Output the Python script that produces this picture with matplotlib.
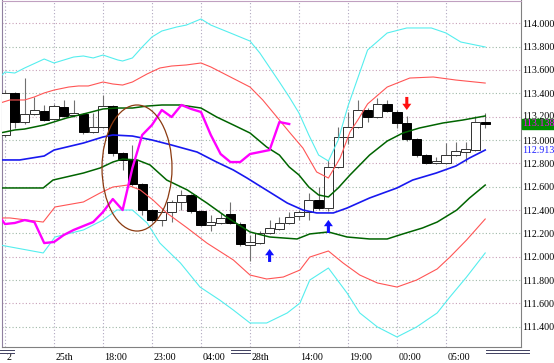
import matplotlib
matplotlib.use('Agg')
import matplotlib.pyplot as plt
from matplotlib.patches import Ellipse
from matplotlib.lines import Line2D
import matplotlib.transforms as mtransforms

# ---------------- data ----------------
opens = [113.043, 113.403, 113.154, 113.223, 113.249, 113.180, 113.283, 113.214, 113.223, 113.069,
         113.111, 113.291, 112.889, 112.829, 112.623, 112.400, 112.314, 112.383, 112.469, 112.529,
         112.392, 112.272, 112.289, 112.366, 112.280, 112.100, 112.117, 112.203, 112.237, 112.289,
         112.349, 112.383, 112.486, 112.417, 112.769, 113.026, 113.111, 113.257, 113.197, 113.308,
         113.240, 113.146, 113.009, 112.871, 112.803, 112.803, 112.871, 112.897, 112.914, 113.154]
closes = [113.403, 113.154, 113.223, 113.257, 113.171, 113.291, 113.206, 113.231, 113.069, 113.111,
          113.291, 112.889, 112.829, 112.623, 112.400, 112.314, 112.383, 112.469, 112.529, 112.392,
          112.272, 112.297, 112.332, 112.289, 112.109, 112.126, 112.203, 112.246, 112.289, 112.340,
          112.383, 112.486, 112.417, 112.769, 113.026, 113.111, 113.257, 113.197, 113.308, 113.249,
          113.146, 113.009, 112.871, 112.803, 112.820, 112.871, 112.906, 112.923, 113.154, 113.138]
highs = [113.428, 113.410, 113.531, 113.368, 113.300, 113.308, 113.343, 113.343, 113.231, 113.231,
         113.386, 113.300, 112.897, 112.957, 112.632, 112.409, 112.417, 112.486, 112.572, 112.537,
         112.400, 112.357, 112.374, 112.469, 112.297, 112.186, 112.220, 112.314, 112.340, 112.383,
         112.400, 112.546, 112.597, 112.829, 113.111, 113.240, 113.343, 113.274, 113.360, 113.343,
         113.257, 113.206, 113.017, 112.880, 112.854, 112.974, 112.983, 112.983, 113.206, 113.231]
lows = [113.026, 113.103, 113.137, 113.214, 113.163, 113.171, 113.197, 113.197, 113.051, 113.060,
        113.103, 112.863, 112.743, 112.606, 112.357, 112.297, 112.263, 112.297, 112.400, 112.374,
        112.263, 112.220, 112.280, 112.280, 112.092, 111.963, 112.109, 112.195, 112.229, 112.280,
        112.314, 112.314, 112.400, 112.392, 112.760, 112.966, 113.103, 113.154, 113.189, 113.240,
        113.103, 112.991, 112.854, 112.794, 112.794, 112.794, 112.863, 112.811, 112.906, 113.103]

cyan_up_x = [-0.5, 0, 1, 2, 4, 5, 7, 8, 9, 10, 11.5, 12, 13, 14, 15, 16, 17.5, 18.5, 20, 21, 23, 25, 26, 28,
             29, 30, 31, 32, 33, 34, 35, 36, 37, 39, 41, 43.5, 45, 46.5, 49]
cyan_up_y = [113.540, 113.583, 113.574, 113.617, 113.694, 113.660, 113.711, 113.720, 113.703, 113.728,
             113.686, 113.677, 113.703, 113.797, 113.883, 113.934, 113.968, 113.985, 114.037, 113.985,
             113.917, 113.848, 113.746, 113.497, 113.369, 113.231, 113.043, 112.871, 112.820, 113.000,
             113.291, 113.531, 113.771, 113.917, 113.960, 113.960, 113.917, 113.840, 113.797]

red_up_x = [-0.5, 0.5, 2, 3, 4, 5, 6.5, 7.5, 8.5, 10, 11, 12, 13, 14.5, 15.8, 17, 18.5, 20, 21, 23, 25,
            26.3, 28, 29, 30.4, 31.8, 33, 34.2, 35.2, 36, 37, 39, 41.3, 43.7, 46, 49]
red_up_y = [113.317, 113.343, 113.343, 113.369, 113.403, 113.428, 113.454, 113.463, 113.463, 113.497,
            113.480, 113.471, 113.497, 113.566, 113.617, 113.634, 113.643, 113.660, 113.626, 113.540,
            113.454, 113.343, 113.171, 113.069, 112.931, 112.726, 112.674, 112.846, 113.069, 113.171,
            113.309, 113.454, 113.531, 113.540, 113.514, 113.488]

green_up_x = [-0.5, 1, 2, 4, 6.3, 8.4, 10, 11.4, 13, 14.5, 16, 17.9, 20, 21.6, 23.3, 25, 26.7, 28, 29, 30,
              31, 32, 33, 34, 35.2, 37.2, 39, 40.6, 42.3, 44.7, 46.7, 49]
green_up_y = [113.060, 113.086, 113.094, 113.129, 113.189, 113.231, 113.266, 113.274, 113.274, 113.291,
              113.300, 113.300, 113.274, 113.197, 113.129, 113.060, 112.940, 112.871, 112.769, 112.700,
              112.597, 112.529, 112.512, 112.589, 112.700, 112.871, 112.991, 113.060, 113.103, 113.146,
              113.171, 113.206]

blue_x = [-0.5, 1.5, 4, 5, 8, 10, 11, 13, 15, 17, 19.6, 21.6, 23.3, 24.7, 26, 27, 28.8, 30.4, 31.8, 33.5,
          34.9, 37.2, 40, 41.6, 44, 46, 47.4, 49]
blue_y = [112.829, 112.829, 112.863, 112.914, 112.974, 113.026, 113.043, 113.034, 113.000, 112.957,
          112.897, 112.811, 112.743, 112.674, 112.606, 112.554, 112.460, 112.400, 112.375, 112.375,
          112.417, 112.503, 112.589, 112.657, 112.717, 112.777, 112.846, 112.914]

green_lo_x = [-0.5, 3.9, 4.9, 8, 9.7, 11, 12, 13.5, 14.8, 16.5, 18.6, 20.6, 22.6, 25, 27, 29.8, 31.1, 33,
              34.9, 37.2, 39, 40.6, 42.6, 44.1, 46.1, 47.4, 49]
green_lo_y = [112.589, 112.589, 112.657, 112.717, 112.760, 112.811, 112.837, 112.829, 112.786, 112.657,
              112.572, 112.460, 112.340, 112.212, 112.169, 112.152, 112.195, 112.212, 112.169, 112.152,
              112.152, 112.195, 112.246, 112.297, 112.400, 112.503, 112.614]

red_lo_x = [-0.5, 0.5, 3.9, 5.1, 8, 9.7, 11, 12.5, 13.8, 15.1, 16.5, 18.6, 20.6, 23.3, 25, 26.7, 28.4,
            30.1, 31.1, 33, 34.5, 36.2, 38, 40, 42, 44.1, 45.4, 47.1, 49]
red_lo_y = [112.332, 112.332, 112.297, 112.426, 112.469, 112.546, 112.597, 112.614, 112.572, 112.486,
            112.375, 112.246, 112.117, 111.972, 111.843, 111.809, 111.826, 111.886, 111.997, 112.049,
            111.946, 111.843, 111.775, 111.740, 111.800, 111.895, 111.997, 112.143, 112.323]

cyan_lo_x = [-0.5, 3.9, 5.1, 8, 10, 11.4, 13, 14.5, 15.8, 17.9, 19.9, 21.9, 23.3, 25, 26.7, 28.8, 30.1,
             31.1, 33, 34.9, 36.2, 38, 40, 42, 44.1, 45.4, 47.1, 49]
cyan_lo_y = [112.100, 112.032, 112.169, 112.229, 112.314, 112.400, 112.400, 112.289, 112.117, 111.946,
             111.740, 111.629, 111.543, 111.432, 111.432, 111.518, 111.603, 111.800, 111.903, 111.689,
             111.518, 111.398, 111.312, 111.398, 111.518, 111.655, 111.826, 112.032]

lag_x = list(range(-1, 30))
lag_y = [112.392, 112.280, 112.289, 112.314, 112.297, 112.117, 112.126, 112.186, 112.229, 112.263,
         112.297, 112.383, 112.494, 112.400, 112.760, 113.043, 113.129, 113.257, 113.197, 113.300,
         113.266, 113.240, 113.043, 112.880, 112.811, 112.811, 112.880, 112.897, 112.914, 113.154,
         113.137]

x_tick_pos = [0, 5, 10, 15, 20, 25, 30, 35, 40, 45]
x_tick_labels = ['2', '25th', '18:00', '23:00', '04:00', '28th', '14:00', '19:00', '00:00', '05:00']
y_ticks = [111.4, 111.6, 111.8, 112.0, 112.2, 112.4, 112.6, 112.8, 113.0, 113.2, 113.4, 113.6, 113.8, 114.0]

last_price = 113.138
mid_price = 112.913

up_arrows_x = [27, 33]
up_arrows_tip = [112.066, 112.315]
up_arrows_tail = [111.955, 112.203]
down_arrows_x = [41]
down_arrows_tip = [113.257]
down_arrows_tail = [113.369]

ellipse_center = (13.47, 112.760)
ellipse_size = (7.14, 1.08)

# ---------------- figure ----------------
W, H = 554, 363
fig = plt.figure(figsize=(W / 100, H / 100), dpi=100)
fig.patch.set_facecolor('white')
ax_l, ax_r, ax_t, ax_b = 1.5, 521, 0.5, 347
ax = fig.add_axes([ax_l / W, 1 - ax_b / H, (ax_r - ax_l) / W, (ax_b - ax_t) / H])
ax.set_xlim((ax_l - 5) / 9.8, (ax_r - 5) / 9.8)
ax.set_ylim(114.1997 - 0.008569 * ax_b, 114.1997 - 0.008569 * ax_t)

FONT = 'Liberation Serif'
FS = 7.2

# grid
for i, yv in enumerate(y_ticks):
    col = '#c8a0b8' if i % 2 else '#a0b8a8'
    ax.axhline(yv, color=col, lw=0.8, ls=(0, (1, 2)), zorder=0)
for xv in x_tick_pos:
    ax.axvline(xv, color='#b0a8c0', lw=0.8, ls=(0, (1, 2)), zorder=0)

# candles
n = len(opens)
idx = list(range(n))
ax.vlines(idx, lows, highs, color='#707070', lw=0.8, zorder=2)
for i in idx:
    o, c = opens[i], closes[i]
    bottom = min(o, c)
    h = max(abs(c - o), 0.012)
    if c >= o:
        ax.bar(i, h, bottom=bottom, width=0.92, facecolor='white', edgecolor='#303030', lw=0.7, zorder=3)
    else:
        ax.bar(i, h, bottom=bottom, width=0.92, facecolor='black', edgecolor='black', lw=0.7, zorder=3)

# indicator lines
ax.plot(cyan_up_x, cyan_up_y, color='#55eeee', lw=0.8, zorder=4)
ax.plot(cyan_lo_x, cyan_lo_y, color='#55eeee', lw=0.8, zorder=4)
ax.plot(red_up_x, red_up_y, color='#ff5555', lw=0.8, zorder=4)
ax.plot(red_lo_x, red_lo_y, color='#ff5555', lw=0.8, zorder=4)
ax.plot(green_up_x, green_up_y, color='#006400', lw=1.1, zorder=4)
ax.plot(green_lo_x, green_lo_y, color='#006400', lw=1.1, zorder=4)
ax.plot(blue_x, blue_y, color='#1818f0', lw=1.2, zorder=4)
ax.plot(lag_x, lag_y, color='#ff00ff', lw=1.7, zorder=5)

# ellipse annotation
ax.add_patch(Ellipse(ellipse_center, ellipse_size[0], ellipse_size[1], fill=False,
                     edgecolor='#8b3a10', lw=0.9, zorder=6))

# arrows
for x, tip, tail in zip(up_arrows_x, up_arrows_tip, up_arrows_tail):
    ax.annotate('', xy=(x, tip), xytext=(x, tail),
                arrowprops=dict(width=2.2, headwidth=6.5, headlength=4.5, color='#1010ff', lw=0),
                zorder=7)
for x, tip, tail in zip(down_arrows_x, down_arrows_tip, down_arrows_tail):
    ax.annotate('', xy=(x, tip), xytext=(x, tail),
                arrowprops=dict(width=2.2, headwidth=6.5, headlength=4.5, color='#ff1010', lw=0),
                zorder=7)

# axes styling
for s in ax.spines.values():
    s.set_color('#808080')
    s.set_linewidth(0.8)
ax.spines['left'].set_color('#9080a0')
ax.spines['top'].set_color('#c0a0c0')

ax.yaxis.tick_right()
ax.set_yticks(y_ticks)
ax.set_yticklabels([f'{v:.3f}' for v in y_ticks], fontsize=FS, family=FONT, color='black')
ax.tick_params(axis='y', length=0, pad=1.0)
for lab in ax.get_yticklabels():
    if lab.get_text() == '113.200':
        lab.set_transform(lab.get_transform() + mtransforms.ScaledTranslation(0, 1.5 / 100, fig.dpi_scale_trans))

ax.set_xticks(x_tick_pos)
ax.set_xticklabels(x_tick_labels, fontsize=FS, family=FONT, color='black', ha='left')
ax.tick_params(axis='x', length=0, pad=4)
for lab in ax.get_xticklabels():
    lab.set_transform(lab.get_transform() + mtransforms.ScaledTranslation(1.5 / 100, 0, fig.dpi_scale_trans))

# right side value labels
trans = mtransforms.blended_transform_factory(ax.transAxes, ax.transData)
ax.text(1.002, last_price, f'{last_price:.3f}', transform=trans, fontsize=FS, family=FONT,
        color='#ff00ff', va='center', ha='left', zorder=10,
        bbox=dict(boxstyle='square,pad=0.02', facecolor='#008c00', edgecolor='#008c00'))
ax.text(1.003, mid_price, f'{mid_price:.3f}', transform=trans, fontsize=FS, family=FONT,
        color='#2020ff', va='center', ha='left', zorder=10)

# decorative double rules under the axis
for (x0, x1) in [(0, 14), (231, 250), (486, 529)]:
    for yp in (350.0, 352.5):
        fig.add_artist(Line2D([x0 / W, x1 / W], [1 - yp / H, 1 - yp / H],
                              color='#404060', lw=0.7, transform=fig.transFigure))

fig.savefig('out.png', dpi=100)
